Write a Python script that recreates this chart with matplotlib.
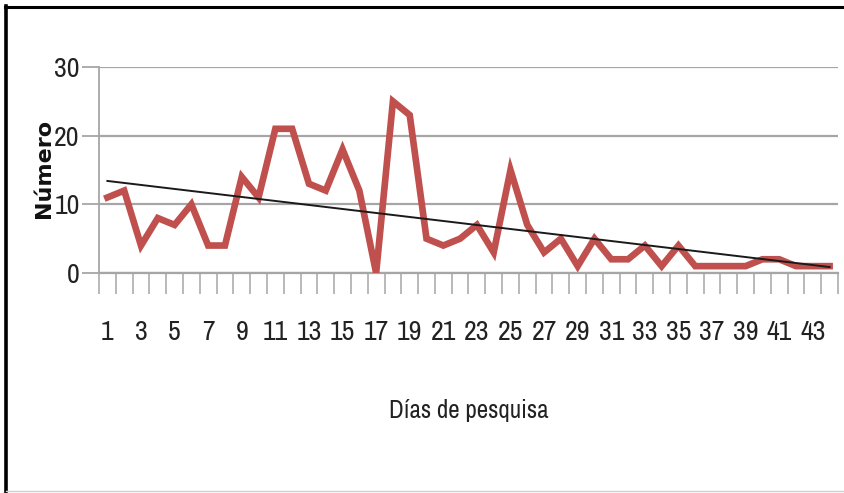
import numpy as np
import matplotlib
matplotlib.use("Agg")
import matplotlib.pyplot as plt
from matplotlib.lines import Line2D
from matplotlib.ticker import FixedLocator, NullFormatter, FixedFormatter
from matplotlib import font_manager as fm

# ---- data ----
days = list(range(1, 45))
counts = [11, 12, 4, 8, 7, 10, 4, 4, 14, 11,
          21, 21, 13, 12, 18, 12, 0, 25, 23, 5,
          4, 5, 7, 3, 15, 7, 3, 5, 1, 5,
          2, 2, 4, 1, 4, 1, 1, 1, 1, 2,
          2, 1, 1, 1]
x_tick_labels = [str(d) for d in range(1, 44, 2)]
y_ticks = [0, 10, 20, 30]
x_label = "Días de pesquisa"
y_label = "Número"


def pick_narrow_font():
    cands = []
    for f in fm.fontManager.ttflist:
        if f.style != "normal" or f.weight not in (400, "normal", "regular"):
            continue
        n = f.name
        score = None
        if n == "Liberation Sans Narrow":
            score = 0
        elif "Narrow" in n:
            score = 1
        elif "Condensed" in n or f.stretch in ("condensed", "semi-condensed", "extra-condensed"):
            score = 2
        if score is not None:
            cands.append((score, f.fname))
    if cands:
        cands.sort()
        return cands[0][1], True
    return None, False


narrow_path, have_narrow = pick_narrow_font()
tick_size = 20 if have_narrow else 14
xlab_size = 18 if have_narrow else 14


def fp(size):
    if narrow_path:
        return fm.FontProperties(fname=narrow_path, size=size)
    return fm.FontProperties(family="DejaVu Sans", size=size)


fig = plt.figure(figsize=(8.45, 4.93), dpi=100)
W, H = 845, 493
ax = fig.add_axes([99 / W, 1 - 273 / H, (838 - 99) / W, (273 - 67) / H])

line_color = "#C0504D"
grid_color = "#A6A6A6"

ax.plot(days, counts, color=line_color, lw=4.8, solid_joinstyle="miter", zorder=3)

# linear trend line (least squares on the data)
coef = np.polyfit(days, counts, 1)
trend = np.polyval(coef, days)
ax.plot(days, trend, color="#1a1a1a", lw=1.4, zorder=4)

ax.set_xlim(0.5, 44.5)
ax.set_ylim(0, 30)

# y axis
ax.set_yticks(y_ticks)
ax.set_yticklabels([str(v) for v in y_ticks], fontproperties=fp(tick_size), color="#222222")
ax.tick_params(axis="y", which="major", length=12, width=1.3, color=grid_color, pad=2, direction="out")
for v in y_ticks:
    ax.axhline(v, color=grid_color, lw=1.6, zorder=1)

# x axis: ticks at category boundaries, labels at odd days
ax.xaxis.set_major_locator(FixedLocator(np.arange(0.5, 45, 1.0)))
ax.xaxis.set_major_formatter(NullFormatter())
ax.xaxis.set_minor_locator(FixedLocator(list(range(1, 44, 2))))
ax.xaxis.set_minor_formatter(FixedFormatter(x_tick_labels))
ax.tick_params(axis="x", which="major", length=15, width=1.1, color=grid_color, direction="out")
ax.tick_params(axis="x", which="minor", length=0, pad=34, labelcolor="#222222")
for lab in ax.xaxis.get_minorticklabels():
    lab.set_fontproperties(fp(tick_size))

for s in ["top", "right"]:
    ax.spines[s].set_visible(False)
ax.spines["left"].set_color(grid_color)
ax.spines["left"].set_linewidth(1.3)
ax.spines["bottom"].set_color(grid_color)
ax.spines["bottom"].set_linewidth(1.6)

ax.set_xlabel(x_label, fontproperties=fp(xlab_size), color="#222222")
ax.xaxis.set_label_coords(0.5, -(410 - 273) / (273 - 67), transform=ax.transAxes)
ax.xaxis.label.set_va("center")
ax.set_ylabel(y_label, family="DejaVu Sans", fontweight="bold", fontsize=16, color="#111111")
ax.yaxis.set_label_coords(-55 / (838 - 99), 0.51)
ax.yaxis.label.set_va("center")

# outer frame
fig.add_artist(Line2D([6 / W, 6 / W], [0, 1 - 6 / H], transform=fig.transFigure, color="black", lw=2.6))
fig.add_artist(Line2D([5 / W, 1], [1 - 7 / H, 1 - 7 / H], transform=fig.transFigure, color="black", lw=2.2))
fig.add_artist(Line2D([6 / W, 1], [2 / H, 2 / H], transform=fig.transFigure, color="#d0d0d0", lw=1.0))

fig.savefig("out.png", dpi=100)
